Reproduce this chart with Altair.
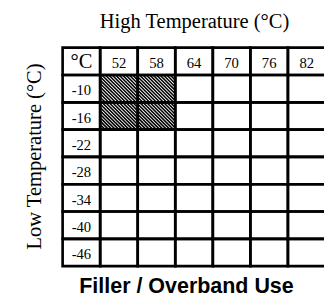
import altair as alt
import pandas as pd

# ---- data ----
corner = "°C"
highs = [52, 58, 64, 70, 76, 82]
lows = [-10, -16, -22, -28, -34, -40, -46]
hatched_high = [52, 58, 52, 58]
hatched_low = [-10, -10, -16, -16]

ncol = len(highs) + 1
nrow = len(lows) + 1

CW, RH = 38.5, 28.0          # cell size in px
PLOT_W = 268                 # visible plot width (table runs past the right edge)

cells = pd.DataFrame(
    [{"c": c, "c2": c + 1, "r": r, "r2": r + 1} for r in range(nrow) for c in range(ncol)]
)

# hatch strokes derived from the hatched cells
H_STEP = 3.5
segs = []
for hh, ll in zip(hatched_high, hatched_low):
    c0 = highs.index(hh) + 1
    r0 = lows.index(ll) + 1
    k = -RH + H_STEP / 2
    while k < CW:
        if k >= 0:
            x1, y1 = k, 0.0
        else:
            x1, y1 = 0.0, -k
        if k + RH <= CW:
            x2, y2 = k + RH, RH
        else:
            x2, y2 = CW, CW - k
        segs.append({"c": c0 + x1 / CW, "r": r0 + y1 / RH,
                     "c2": c0 + x2 / CW, "r2": r0 + y2 / RH})
        k += H_STEP
segs = pd.DataFrame(segs)

head = pd.DataFrame({"c": [i + 1.5 for i in range(len(highs))], "r": [0.5] * len(highs),
                     "t": [str(h) for h in highs]})
rowlab = pd.DataFrame({"c": [0.5] * len(lows), "r": [i + 1.5 for i in range(len(lows))],
                       "t": [str(l) for l in lows]})
corner_df = pd.DataFrame({"c": [0.5], "r": [0.5], "t": [corner]})

xs = alt.Scale(domain=[0, PLOT_W / CW], nice=False, zero=False)
ys = alt.Scale(domain=[0, nrow], reverse=True, nice=False, zero=False)

serif = "Liberation Serif"
TF = 21
xaxis = alt.Axis(
    orient="top", title="High Temperature (°C)", labels=False, ticks=False, domain=False,
    grid=False, titleFont=serif, titleFontSize=TF, titleFontWeight="normal",
    titleColor="black", titleX=CW * ncol / 2, titleY=-21, titleAlign="center",
    titleBaseline="alphabetic", titleAngle=0)
yaxis = alt.Axis(
    orient="left", title="Low Temperature (°C)", labels=False, ticks=False, domain=False,
    grid=False, titleFont=serif, titleFontSize=TF, titleFontWeight="normal",
    titleColor="black", titleX=-23, titleY=RH * nrow / 2 - 1, titleAlign="center",
    titleBaseline="alphabetic", titleAngle=270)

X = alt.X("c:Q", scale=xs, axis=xaxis)
Y = alt.Y("r:Q", scale=ys, axis=yaxis)

base = alt.Chart(cells).mark_rect(fill="white", strokeWidth=0).encode(
    x=X, x2="c2:Q", y=Y, y2="r2:Q")

hatch_layer = alt.Chart(segs).mark_rule(color="black", strokeWidth=1.6).encode(
    x=X, x2="c2:Q", y=Y, y2="r2:Q")

grid = alt.Chart(cells).mark_rect(fillOpacity=0, stroke="black", strokeWidth=2.7).encode(
    x=X, x2="c2:Q", y=Y, y2="r2:Q")

def txt(df, size, dy):
    return alt.Chart(df).mark_text(font=serif, fontSize=size, color="black",
                                   align="center", baseline="middle", dy=dy).encode(
        x=X, y=Y, text="t:N")

chart = alt.layer(
    base, hatch_layer, grid, txt(head, 15, 1.5), txt(rowlab, 15, 2), txt(corner_df, 21, 1)
).properties(
    width=PLOT_W, height=RH * nrow,
    padding={"left": 56, "top": 37, "right": 0, "bottom": 31},
    autosize=alt.AutoSizeParams(type="none"),
    title=alt.TitleParams(text="Filler / Overband Use", orient="bottom", anchor="middle",
                          font="Liberation Sans", fontSize=22, fontWeight="bold",
                          color="black", baseline="alphabetic", offset=26, dx=-7),
).configure_view(stroke=None)

chart.save("out.html", embed_options={"renderer": "svg", "actions": False})
